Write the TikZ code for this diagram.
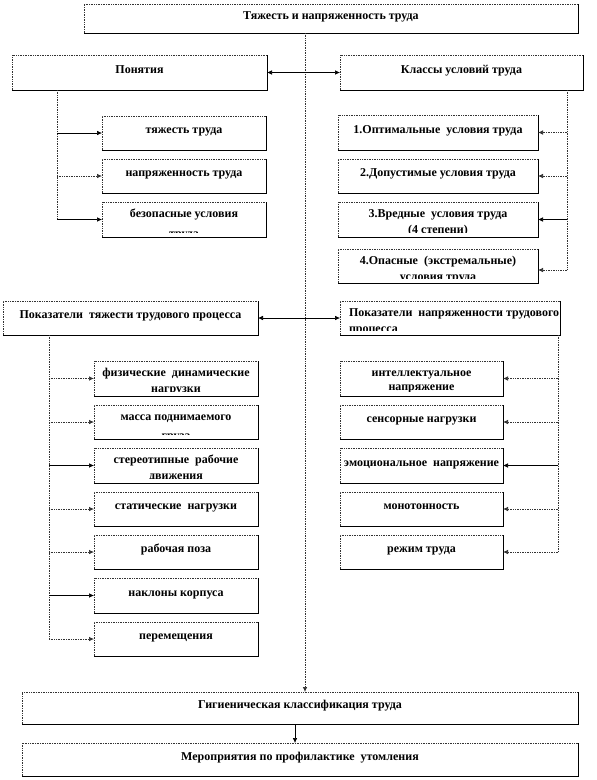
\documentclass[tikz,border=0pt]{standalone}
\usepackage{fontspec}
\setmainfont{Liberation Serif}
\usetikzlibrary{arrows.meta}
% #1 box name, #2 first line, #3 second line, #4 offset of the second baseline below the box top
\newcommand{\twolines}[4]{%
  \begin{scope}
    \clip ([xshift=-20pt]#1.north west) rectangle ([xshift=20pt,yshift=5pt]#1.south east);
    \node[txt,anchor=base] (#1-a) at ([yshift=-15.5pt]#1.north) {#2};
    \node[txt,anchor=base] (#1-b) at ([yshift=-#4pt]#1.north) {#3};
  \end{scope}}
\begin{document}
\begin{tikzpicture}[x=1pt,y=-1pt,
  font=\bfseries\fontsize{12}{14}\selectfont,
  bx/.style={inner sep=0pt, outer sep=0pt, text height=5pt, text depth=3.5pt},
  dl/.style={densely dotted, line width=0.7pt, black!80},
  sl/.style={line width=0.6pt, black},
  tip/.style={-{Latex[length=5pt,width=4.5pt]}},
  dtip/.style={{Latex[length=5pt,width=4.5pt]}-{Latex[length=5pt,width=4.5pt]}},
  txt/.style={inner sep=0pt, outer sep=0pt}
]
\useasboundingbox[fill=white] (0,0) rectangle (597,780);

% top level
\node[bx, minimum width=494pt, minimum height=29pt] (top) at (331,18.5) {Тяжесть и напряженность труда};
\node[bx, minimum width=255pt, minimum height=35pt] (pon) at (139.5,72.5) {Понятия};
\node[bx, minimum width=243pt, minimum height=35pt] (kl) at (461.5,72.5) {Классы условий труда};

% Понятия children
\node[bx, minimum width=164pt, minimum height=34pt] (p1) at (184,133) {тяжесть труда};
\node[bx, minimum width=164pt, minimum height=34pt] (p2) at (184,176) {напряженность труда};
\node[bx, minimum width=164pt, minimum height=35pt] (p3) at (184,219.5) {};

% Классы children
\node[bx, minimum width=200pt, minimum height=35pt] (k1) at (438,132.5) {1.Оптимальные\ \ условия труда};
\node[bx, minimum width=200pt, minimum height=34pt] (k2) at (438,176) {2.Допустимые условия труда};
\node[bx, minimum width=200pt, minimum height=35pt] (k3) at (438,219.5) {};
\node[bx, minimum width=200pt, minimum height=34pt] (k4) at (438,266) {};

% Показатели
\node[bx, minimum width=255pt, minimum height=34pt] (pt) at (130.5,318) {Показатели\ \ тяжести трудового процесса};
\node[bx, minimum width=220pt, minimum height=34pt] (pn) at (450,318) {};

% тяжесть children
\node[bx, minimum width=164pt, minimum height=35pt] (t1) at (176,378.5) {};
\node[bx, minimum width=164pt, minimum height=34pt] (t2) at (176,422) {};
\node[bx, minimum width=164pt, minimum height=35pt] (t3) at (176,465.5) {};
\node[bx, minimum width=164pt, minimum height=34pt] (t4) at (176,509) {статические\ \ нагрузки};
\node[bx, minimum width=164pt, minimum height=34pt] (t5) at (176,552) {рабочая поза};
\node[bx, minimum width=164pt, minimum height=35pt] (t6) at (176,595.5) {наклоны корпуса};
\node[bx, minimum width=164pt, minimum height=34pt] (t7) at (176,639) {перемещения};

% напряженность children
\node[bx, minimum width=163pt, minimum height=35pt] (n1) at (421.5,378.5) {};
\node[bx, minimum width=163pt, minimum height=34pt] (n2) at (421.5,422) {сенсорные нагрузки};
\node[bx, minimum width=163pt, minimum height=35pt] (n3) at (421.5,465.5) {эмоциональное\ \ напряжение};
\node[bx, minimum width=163pt, minimum height=34pt] (n4) at (421.5,509) {монотонность};
\node[bx, minimum width=163pt, minimum height=34pt] (n5) at (421.5,552) {режим труда};

% bottom
\node[bx, minimum width=556pt, minimum height=32pt] (g) at (300,708) {Гигиеническая классификация труда};
\node[bx, minimum width=556pt, minimum height=33pt] (m) at (300,759.5) {Мероприятия по профилактике\ \ утомления};

% two-line texts (clipped at the lower edge as in the original)
\twolines{p3}{безопасные условия}{труда}{35}
\twolines{k3}{3.Вредные\ \ условия труда}{(4 степени)}{31}
\twolines{k4}{4.Опасные\ \ (экстремальные)}{условия труда}{31}
\twolines{t1}{физические\ \ динамические}{нагрузки}{31}
\twolines{t2}{масса поднимаемого}{груза}{34}
\twolines{t3}{стереотипные\ \ рабочие}{движения}{31}
\twolines{n1}{интеллектуальное}{напряжение}{29.5}
\begin{scope}
  \clip ([xshift=-20pt]pn.north west) rectangle ([xshift=20pt,yshift=5pt]pn.south east);
  \node[txt,anchor=base west] (pn-a) at ([xshift=9pt,yshift=-15.5pt]pn.north west) {Показатели\ \ напряженности трудового};
  \node[txt,anchor=base west] (pn-b) at ([xshift=9pt,yshift=-31pt]pn.north west) {процесса};
\end{scope}

% box borders: dotted top/left, solid right/bottom
\foreach \n in {top,pon,kl,p1,p2,p3,k1,k2,k3,k4,pt,pn,t1,t2,t3,t4,t5,t6,t7,n1,n2,n3,n4,n5,g,m}{
  \draw[dl] (\n.south west) -- (\n.north west) -- (\n.north east);
  \draw[sl] (\n.north east) -- (\n.south east) -- (\n.south west);
}

% central spine
\coordinate (c) at (305,0);
\draw[dl,tip] (top.south -| c) -- (g.north -| c);
\draw[sl,dtip] (pon.east) -- (kl.west);
\draw[sl,dtip] (pt.east) -- (pn.west);

% Понятия branch
\coordinate (pl) at (57,0);
\draw[dl] (pon.south -| pl) -- (p3.west -| pl);
\draw[sl,tip] (p1.west -| pl) -- (p1.west);
\draw[dl,tip] (p2.west -| pl) -- (p2.west);
\draw[sl,tip] (p3.west -| pl) -- (p3.west);

% Классы branch
\coordinate (kr) at (567,0);
\coordinate (k4a) at ([yshift=-4pt]k4.east);
\draw[dl] (kl.south -| kr) -- (k4a -| kr);
\draw[dl,tip] (k1.east -| kr) -- (k1.east);
\draw[dl,tip] (k2.east -| kr) -- (k2.east);
\draw[sl,tip] (k3.east -| kr) -- (k3.east);
\draw[dl,tip] (k4a -| kr) -- (k4a);

% тяжесть branch
\coordinate (tl) at (49,0);
\draw[dl] (pt.south -| tl) -- (t7.west -| tl);
\draw[dl,tip] (t1.west -| tl) -- (t1.west);
\draw[dl,tip] (t2.west -| tl) -- (t2.west);
\draw[sl,tip] (t3.west -| tl) -- (t3.west);
\draw[dl,tip] (t4.west -| tl) -- (t4.west);
\draw[dl,tip] (t5.west -| tl) -- (t5.west);
\draw[sl,tip] (t6.west -| tl) -- (t6.west);
\draw[dl,tip] (t7.west -| tl) -- (t7.west);

% напряженность branch
\coordinate (nr) at (558,0);
\draw[dl] (pn.south -| nr) -- (n5.east -| nr);
\draw[dl,tip] (n1.east -| nr) -- (n1.east);
\draw[dl,tip] (n2.east -| nr) -- (n2.east);
\draw[sl,tip] (n3.east -| nr) -- (n3.east);
\draw[dl,tip] (n4.east -| nr) -- (n4.east);
\draw[dl,tip] (n5.east -| nr) -- (n5.east);

% bottom arrow
\coordinate (gm) at (295,0);
\draw[sl,tip] (g.south -| gm) -- (m.north -| gm);
\coordinate (s1) at (142,0);
\coordinate (s2) at (188,0);
\draw[line width=1pt] (g.south -| s1) -- (g.south -| s2);
\end{tikzpicture}
\end{document}
